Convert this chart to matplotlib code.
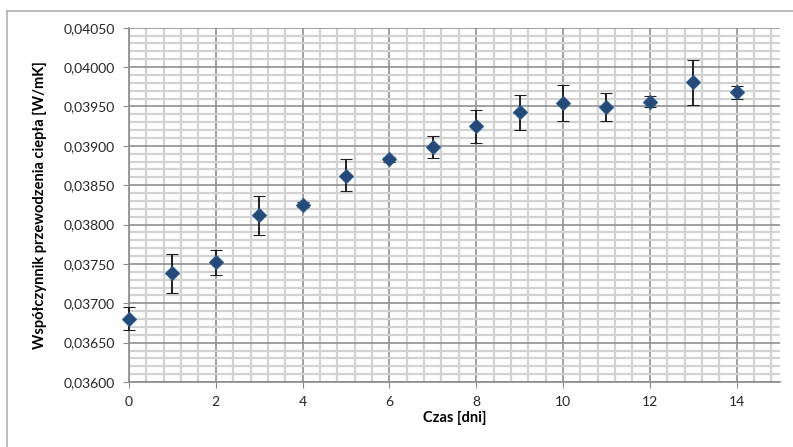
import matplotlib
matplotlib.use("Agg")
import matplotlib.pyplot as plt
from matplotlib.ticker import MultipleLocator, FuncFormatter
from matplotlib.lines import Line2D
import numpy as np

days = [0, 1, 2, 3, 4, 5, 6, 7, 8, 9, 10, 11, 12, 13, 14]
conductivity = [0.03680, 0.03739, 0.03752, 0.03812, 0.03825, 0.03862, 0.03883,
                0.03898, 0.03925, 0.03943, 0.03954, 0.03949, 0.03956, 0.03981, 0.03968]
err_low = [0.00014, 0.00026, 0.00016, 0.00025, 0.00003, 0.00020, 0.00003,
           0.00014, 0.00021, 0.00023, 0.00023, 0.00017, 0.00007, 0.00029, 0.00009]
err_high = [0.00015, 0.00024, 0.00016, 0.00024, 0.00003, 0.00021, 0.00003,
            0.00015, 0.00020, 0.00022, 0.00023, 0.00018, 0.00007, 0.00028, 0.00008]
x_label = "Czas [dni]"
y_label = "Współczynnik przewodzenia ciepła [W/mK]"

plt.rcParams['font.family'] = ['Lato', 'DejaVu Sans']

fig = plt.figure(figsize=(7.93, 4.47), dpi=100)
# outer chart border
fig.add_artist(Line2D([7/793, 7/793], [0, 1 - 11/447], color='#b0b0b0', lw=1.2))
fig.add_artist(Line2D([7/793, 1], [1 - 11/447, 1 - 11/447], color='#b0b0b0', lw=1.2))

ax = fig.add_axes([129/793, 1 - 382/447, (780 - 129)/793, (382 - 27.7)/447])
ax.set_xlim(0, 15)
ax.set_ylim(0.0360, 0.0405)

ax.xaxis.set_major_locator(MultipleLocator(2))
ax.xaxis.set_minor_locator(MultipleLocator(0.4))
ax.yaxis.set_major_locator(MultipleLocator(0.0005))
ax.yaxis.set_minor_locator(MultipleLocator(0.0001))
ax.yaxis.set_major_formatter(FuncFormatter(lambda v, p: f"{v:.5f}".replace('.', ',')))
ax.xaxis.set_major_formatter(FuncFormatter(lambda v, p: f"{int(round(v))}"))

ax.grid(which='minor', color='#d2d2d2', lw=1.6)
ax.grid(which='major', color='#909090', lw=1.2)
ax.set_axisbelow(True)

for s in ['top', 'right']:
    ax.spines[s].set_visible(False)
for s in ['left', 'bottom']:
    ax.spines[s].set_color('#8c8c8c')
    ax.spines[s].set_linewidth(1.2)

ax.tick_params(which='major', direction='out', length=4, color='#8c8c8c',
               labelsize=10, labelcolor='#262626', pad=6)
ax.tick_params(which='minor', length=0)

cont = ax.errorbar(days, conductivity, yerr=[err_low, err_high], fmt='D', color='#234a78',
                   markersize=7.5, markeredgecolor='#2d5b8f', markeredgewidth=0.8,
                   ecolor='#202020', elinewidth=1.4, capsize=4, capthick=1.4, zorder=3)
for art in [cont[0], *cont[1], *cont[2]]:
    art.set_clip_on(False)

ax.set_xlabel(x_label, fontsize=10.5, fontweight='bold', labelpad=2)
ax.set_ylabel(y_label, fontsize=10.5, fontweight='bold', labelpad=12)

fig.savefig("out.png", dpi=100)
